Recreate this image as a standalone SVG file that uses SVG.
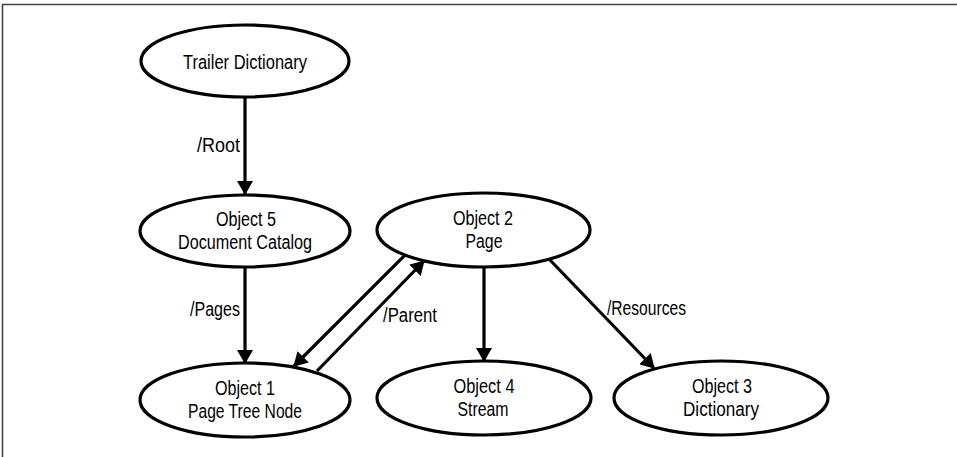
<svg xmlns="http://www.w3.org/2000/svg" width="957" height="457" viewBox="0 0 957 457">
<style>
.node ellipse{fill:#fff;stroke:#000;stroke-width:3.2}
.node text,.lbl{font-family:"Liberation Sans","Noto Sans",sans-serif;font-size:20px;fill:#000;text-anchor:middle}
.lbl{text-anchor:start}
.edge{stroke:#000;stroke-width:3.2;fill:none;marker-end:url(#ah)}
</style>
<defs>
<marker id="ah" viewBox="0 0 14 16" refX="13" refY="8" markerWidth="14" markerHeight="16" markerUnits="userSpaceOnUse" orient="auto">
<path d="M0,0 L14,8 L0,16 z" fill="#000"/>
</marker>
</defs>
<rect x="0" y="0" width="957" height="457" fill="#fff"/>
<path d="M2.5,457 V4.5 H957" fill="none" stroke="#444" stroke-width="1.6"/>
<g id="connectors">
<line class="edge" x1="245" y1="97" x2="245" y2="194"/>
<line class="edge" x1="245" y1="267" x2="245" y2="363"/>
<line class="edge" x1="484" y1="267" x2="484" y2="361"/>
<line class="edge" x1="550" y1="260" x2="654" y2="368"/>
<line class="edge" x1="405" y1="255" x2="294" y2="366"/>
<line class="edge" x1="317" y1="371" x2="424" y2="261"/>
<text class="lbl" x="197" y="152" textLength="43" lengthAdjust="spacingAndGlyphs">/Root</text>
<text class="lbl" x="190" y="316" textLength="50" lengthAdjust="spacingAndGlyphs">/Pages</text>
<text class="lbl" x="383" y="322" textLength="54" lengthAdjust="spacingAndGlyphs">/Parent</text>
<text class="lbl" x="607" y="315" textLength="79" lengthAdjust="spacingAndGlyphs">/Resources</text>
</g>
<g id="trailer" class="node"><ellipse cx="245" cy="61" rx="104" ry="36"/><text x="245" y="69" textLength="124" lengthAdjust="spacingAndGlyphs">Trailer Dictionary</text></g>
<g id="obj5" class="node"><ellipse cx="245" cy="231" rx="105" ry="36"/><text x="246" y="226" textLength="60" lengthAdjust="spacingAndGlyphs">Object 5</text><text x="245" y="249" textLength="134" lengthAdjust="spacingAndGlyphs">Document Catalog</text></g>
<g id="obj1" class="node"><ellipse cx="245" cy="400" rx="105" ry="37"/><text x="245" y="395" textLength="60" lengthAdjust="spacingAndGlyphs">Object 1</text><text x="245" y="418" textLength="114" lengthAdjust="spacingAndGlyphs">Page Tree Node</text></g>
<g id="obj2" class="node"><ellipse cx="483.5" cy="230" rx="106.5" ry="37"/><text x="483" y="225" textLength="60" lengthAdjust="spacingAndGlyphs">Object 2</text><text x="484" y="248" textLength="37" lengthAdjust="spacingAndGlyphs">Page</text></g>
<g id="obj4" class="node"><ellipse cx="484" cy="398" rx="107" ry="37"/><text x="484" y="393" textLength="61" lengthAdjust="spacingAndGlyphs">Object 4</text><text x="483" y="416" textLength="51" lengthAdjust="spacingAndGlyphs">Stream</text></g>
<g id="obj3" class="node"><ellipse cx="721" cy="398" rx="107" ry="37"/><text x="722" y="393" textLength="60" lengthAdjust="spacingAndGlyphs">Object 3</text><text x="721" y="416" textLength="76" lengthAdjust="spacingAndGlyphs">Dictionary</text></g>
</svg>
